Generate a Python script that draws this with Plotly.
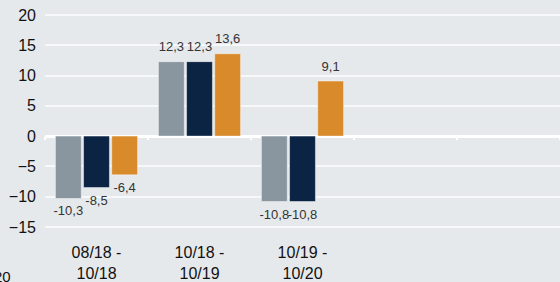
import plotly.graph_objects as go

categories = ["08/18 -<br>10/18", "10/18 -<br>10/19", "10/19 -<br>10/20", " ", "  "]
series_gray = [-10.3, 12.3, -10.8, None, None]
series_navy = [-8.5, 12.3, -10.8, None, None]
series_orange = [-6.4, 13.6, 9.1, None, None]
y_ticks = [-15, -10, -5, 0, 5, 10, 15, 20]

colors = ["#8a969f", "#0c2444", "#d98a2b"]
BG = "#e6e9ec"
FONT = "Liberation Sans, Arial, sans-serif"

y_min, y_max = -16, 20.5

fig = go.Figure()
all_series = [series_gray, series_navy, series_orange]
for vals, col in zip(all_series, colors):
    fig.add_trace(go.Bar(
        x=categories, y=vals,
        marker=dict(color=col, line=dict(color="rgba(255,255,255,0.45)", width=1)),
        showlegend=False, hoverinfo="skip",
    ))
for vals in all_series:
    fig.add_trace(go.Scatter(
        x=categories, y=vals, mode="markers+text",
        marker=dict(size=10, opacity=0),
        texttemplate="%{y:.1f}",
        textposition=["top center" if (v is not None and v >= 0) else "bottom center" for v in vals],
        textfont=dict(size=13, color="#333333", family=FONT),
        cliponaxis=False, showlegend=False, hoverinfo="skip",
    ))

fig.update_layout(
    width=560, height=282,
    margin=dict(l=45, r=0, t=12, b=47),
    paper_bgcolor=BG, plot_bgcolor=BG,
    separators=",.",
    barmode="group", bargap=0.18, bargroupgap=0.08,
    scattermode="group", scattergap=0.18,
    font=dict(family=FONT, size=16, color="#111111"),
    xaxis=dict(type="category", categoryorder="array", categoryarray=categories,
               range=[-0.5, 4.5], showgrid=False, zeroline=False, showline=False,
               ticks="", ticklabelstandoff=8, tickfont=dict(size=16, color="#111111")),
    xaxis2=dict(type="category", categoryorder="array", categoryarray=categories,
                range=[-0.5, 4.5], overlaying="x", anchor="free",
                position=(0 - y_min) / (y_max - y_min), side="bottom",
                showticklabels=False, showgrid=False, zeroline=False, showline=False,
                ticks="outside", tickson="boundaries", ticklen=3, tickwidth=2,
                tickcolor="#ffffff"),
    yaxis=dict(range=[y_min, y_max], tickvals=y_ticks, showgrid=True,
               gridcolor="#f7f8f9", gridwidth=1.5, zeroline=True,
               zerolinecolor="#ffffff", zerolinewidth=2.5, showline=False,
               ticks="", ticklabelstandoff=8, tickfont=dict(size=16, color="#111111")),
    annotations=[dict(text="20", xref="paper", yref="paper", x=-45/515, y=-40/223,
                      xanchor="left", yanchor="top", showarrow=False, xshift=-8,
                      yshift=7, font=dict(size=15, color="#111111", family=FONT))],
)
fig.add_trace(go.Scatter(x=categories, y=[None]*len(categories), xaxis="x2",
                         showlegend=False, hoverinfo="skip"))

fig.write_html("out.html", config={"displayModeBar": False},
               post_script="document.body.style.margin='0';document.body.style.overflow='hidden';")
